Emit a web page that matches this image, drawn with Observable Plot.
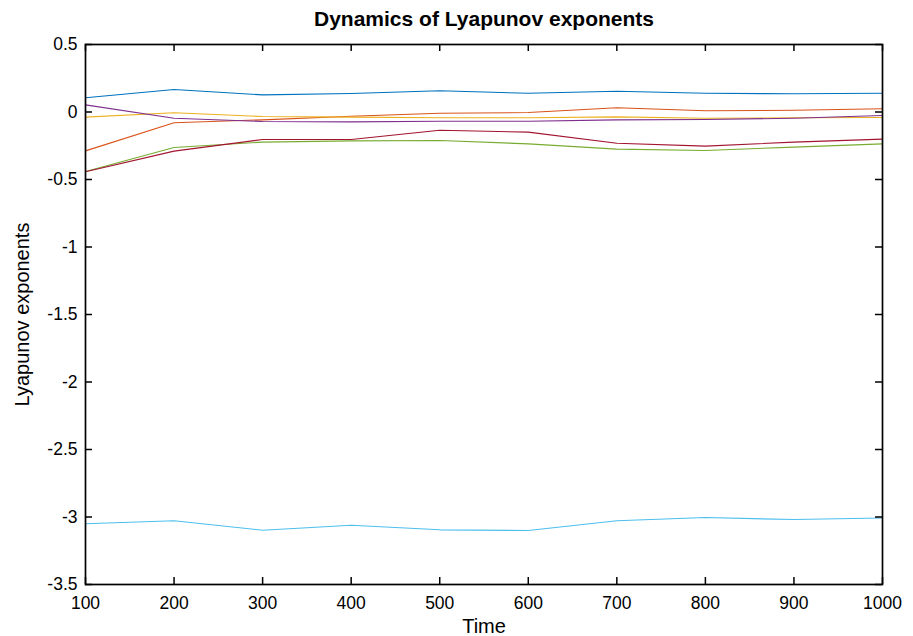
<!DOCTYPE html>
<html>
<head>
<meta charset="utf-8">
<script src="https://cdn.jsdelivr.net/npm/d3@7"></script>
<script src="https://cdn.jsdelivr.net/npm/@observablehq/plot@0.6"></script>
<style>
  html, body { margin: 0; padding: 0; background: #fff; }
  #chart { width: 913px; height: 636px; }
</style>
</head>
<body>
<div id="chart"></div>
<script>
// Time steps at which the exponents were estimated
const time = [100, 200, 300, 400, 500, 600, 700, 800, 900, 1000];

// Lyapunov exponent estimates, one array per exponent
const lambda1 = [0.105, 0.167, 0.127, 0.137, 0.157, 0.139, 0.154, 0.139, 0.135, 0.139];
const lambda2 = [-0.288, -0.080, -0.058, -0.031, -0.009, -0.004, 0.031, 0.009, 0.013, 0.024];
const lambda3 = [-0.038, -0.006, -0.033, -0.038, -0.043, -0.043, -0.036, -0.046, -0.043, -0.041];
const lambda4 = [0.053, -0.046, -0.070, -0.073, -0.068, -0.068, -0.058, -0.056, -0.046, -0.026];
const lambda5 = [-0.441, -0.263, -0.223, -0.214, -0.211, -0.236, -0.275, -0.285, -0.260, -0.236];
const lambda6 = [-3.050, -3.028, -3.098, -3.061, -3.095, -3.100, -3.028, -3.004, -3.019, -3.007];
const lambda7 = [-0.443, -0.290, -0.204, -0.204, -0.135, -0.149, -0.231, -0.253, -0.223, -0.201];

const seriesNames = ["λ1", "λ2", "λ3", "λ4", "λ5", "λ6", "λ7"];
const seriesColors = ["#0072BD", "#D95319", "#EDB120", "#7E2F8E", "#77AC30", "#4DBEEE", "#A2142F"];

// Axis ticks
const xTicks = [100, 200, 300, 400, 500, 600, 700, 800, 900, 1000];
const yTicks = [0.5, 0, -0.5, -1, -1.5, -2, -2.5, -3, -3.5];

const titleText = "Dynamics of Lyapunov exponents";
const xLabel = "Time";
const yLabel = "Lyapunov exponents";

// Long-format table built from the arrays above
const allSeries = [lambda1, lambda2, lambda3, lambda4, lambda5, lambda6, lambda7];
const rows = allSeries.flatMap((vals, i) =>
  vals.map((v, j) => ({ series: seriesNames[i], time: time[j], value: v }))
);

const W = 913, H = 636;
const margin = { top: 44, right: 31, bottom: 52, left: 85 };
const xDomain = [100, 1000];
const yDomain = [-3.5, 0.5];

// Inward-pointing tick length, converted to data units
const tickPx = 7;
const innerW = W - margin.left - margin.right;
const innerH = H - margin.top - margin.bottom;
const tx = tickPx * (xDomain[1] - xDomain[0]) / innerW;
const ty = tickPx * (yDomain[1] - yDomain[0]) / innerH;

const font = "'Liberation Sans', Arial, Helvetica, sans-serif";

const chart = Plot.plot({
  width: W,
  height: H,
  marginTop: margin.top,
  marginRight: margin.right,
  marginBottom: margin.bottom,
  marginLeft: margin.left,
  style: { fontFamily: font, fontSize: "17.5px", background: "#fff", color: "#000", overflow: "visible" },
  x: { domain: xDomain },
  y: { domain: yDomain },
  color: { domain: seriesNames, range: seriesColors },
  marks: [
    Plot.line(rows, { x: "time", y: "value", z: "series", stroke: "series", strokeWidth: 1.1 }),
    // tick marks on all four sides, pointing into the plot area
    Plot.ruleX(xTicks, { x: d => d, y1: yDomain[0], y2: yDomain[0] + ty, stroke: "#000", strokeWidth: 1.5 }),
    Plot.ruleX(xTicks, { x: d => d, y1: yDomain[1], y2: yDomain[1] - ty, stroke: "#000", strokeWidth: 1.5 }),
    Plot.ruleY(yTicks, { y: d => d, x1: xDomain[0], x2: xDomain[0] + tx, stroke: "#000", strokeWidth: 1.5 }),
    Plot.ruleY(yTicks, { y: d => d, x1: xDomain[1], x2: xDomain[1] - tx, stroke: "#000", strokeWidth: 1.5 }),
    Plot.frame({ stroke: "#000", strokeWidth: 1.7 }),
    Plot.axisX(xTicks, { tickSize: 0, tickPadding: 12, label: null, tickFormat: d => String(d), fontSize: 17.5 }),
    Plot.axisY(yTicks, { tickSize: 0, tickPadding: 8, label: null, tickFormat: d => String(d), fontSize: 17.5 }),
    Plot.text([titleText], { frameAnchor: "top", dy: -33, fontWeight: "bold", fontSize: 21, fill: "#000" }),
    Plot.text([xLabel], { frameAnchor: "bottom", dy: 48, fontSize: 20, fill: "#000" }),
    Plot.text([yLabel], { frameAnchor: "left", textAnchor: "middle", dx: -63, rotate: -90, fontSize: 20, fill: "#000" })
  ]
});

document.getElementById("chart").appendChild(chart);
</script>
</body>
</html>
